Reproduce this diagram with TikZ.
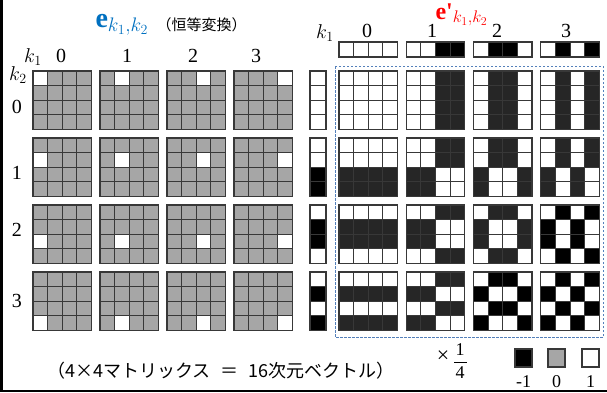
\RequirePackage{fix-cm}
\documentclass[tikz,border=0pt]{standalone}
\usepackage{fontspec}
\setmainfont{Liberation Serif}
\newfontfamily\jpfont{Noto Sans CJK JP}
\definecolor{ehead}{RGB}{0,112,192}
\definecolor{dashblue}{RGB}{84,128,186}
\definecolor{zerogray}{RGB}{166,166,166}
\definecolor{darkcell}{RGB}{38,38,38}
\tikzset{
  cell/.style={draw=black!78,line width=1.1pt},
  idxlabel/.style={font=\fontsize{20}{20}\selectfont,anchor=base},
  rowlabel/.style={font=\fontsize{20}{20}\selectfont},
}

\begin{document}
\begin{tikzpicture}[x=1pt,y=-1pt]
\useasboundingbox (0,0) rectangle (607,392);

% frame
\draw[line width=2.5pt] (1.25,0) -- (1.25,390.75) -- (607,390.75);

% Identity basis (left)
\node[anchor=base west,text=ehead,font=\fontsize{28}{28}\selectfont] (eleft) at (92,27) {\textbf{e}$_{k_1,k_2}$};
\node[anchor=west,font=\jpfont\fontsize{15}{15}\selectfont] (eleftnote) at ([xshift=1pt]eleft.east) {（恒等変換）};

\node[idxlabel] (lkone) at (33,62) {$k_1$};
\node[idxlabel] (lktwo) at (18,80) {$k_2$};
\foreach \k/\x in {0/61,1/127,2/193,3/256}{
\node[idxlabel] (lcol\k) at (\x,62) {\k};
}
\foreach \k/\y in {0/107,1/173,2/230,3/301}{
\node[rowlabel] (lrow\k) at (17,\y) {\k};
}

\foreach \ka in {0,1,2,3}{
\foreach \kb in {0,1,2,3}{
\foreach \c in {0,1,2,3}{
\foreach \r in {0,1,2,3}{
  \def\cf{zerogray}
  \ifnum\c=\ka \ifnum\r=\kb \def\cf{white}\fi\fi
  \draw[cell,fill=\cf] (33+67*\ka+14.6*\c,71+67*\kb+14.6*\r) rectangle +(14.6,14.6);
}}}}

% Transformed basis (right)
\node[anchor=base west,text=red,font=\fontsize{24}{24}\selectfont] (eright) at (432,19) {\textbf{e\textquotesingle}$_{k_1,k_2}$};

\node[idxlabel] (rkone) at (325,38) {$k_1$};
\foreach \k/\x in {0/367,1/432,2/497,3/566}{
\node[idxlabel] (rcol\k) at (\x,37) {\k};
}

% row vectors and column vectors
\foreach \k in {0,1,2,3}{
\foreach \c in {0,1,2,3}{
  \pgfmathtruncatemacro\isneg{cos(45*\k*(\c+0.5))<0}
  \ifnum\isneg=1 \def\cf{black}\else\def\cf{white}\fi
  \draw[cell,fill=\cf] (339+67.3*\k+14.6*\c,42) rectangle +(14.6,15);
  \draw[cell,fill=\cf] (310,71+67*\k+14.6*\c) rectangle +(16,14.6);
}}

\foreach \ka in {0,1,2,3}{
\foreach \kb in {0,1,2,3}{
\foreach \c in {0,1,2,3}{
\foreach \r in {0,1,2,3}{
  \pgfmathtruncatemacro\isneg{cos(45*\ka*(\c+0.5))*cos(45*\kb*(\r+0.5))<0}
  \ifnum\isneg=1
    \ifnum\numexpr\ka+\kb\relax>4 \def\cf{black}\else\def\cf{darkcell}\fi
  \else\def\cf{white}\fi
  \draw[cell,fill=\cf] (339+67.3*\ka+14.6*\c,71+67*\kb+14.6*\r) rectangle +(14.6,14.6);
}}}}

\draw[dashblue,dash pattern=on 2.5pt off 1.5pt,line width=0.9pt] (335,66) rectangle (603,337);

% caption and legend
\node[font=\jpfont\fontsize{18}{18}\selectfont] (caption) at (221,371) {（4×4マトリックス\hspace{0.55em}＝\hspace{0.55em}16次元ベクトル）};
\node[font=\fontsize{22}{22}\selectfont] (times) at (443,357) {×};
\node[font=\fontsize{18}{18}\selectfont,anchor=base] (sone) at (460,355) {1};
\node[font=\fontsize{18}{18}\selectfont,anchor=base] (sfour) at (460,378) {4};
\draw[line width=0.8pt] (454,362) -- (467,362);

\foreach \v/\f/\x in {-1/black/515,0/zerogray/548,1/white/582}{
\draw[cell,fill=\f] (\x,349) rectangle +(17,18);
\node[font=\fontsize{18}{18}\selectfont,anchor=base] (leg\f) at (\x+8.5,387) {\v};
}

\end{tikzpicture}
\end{document}
